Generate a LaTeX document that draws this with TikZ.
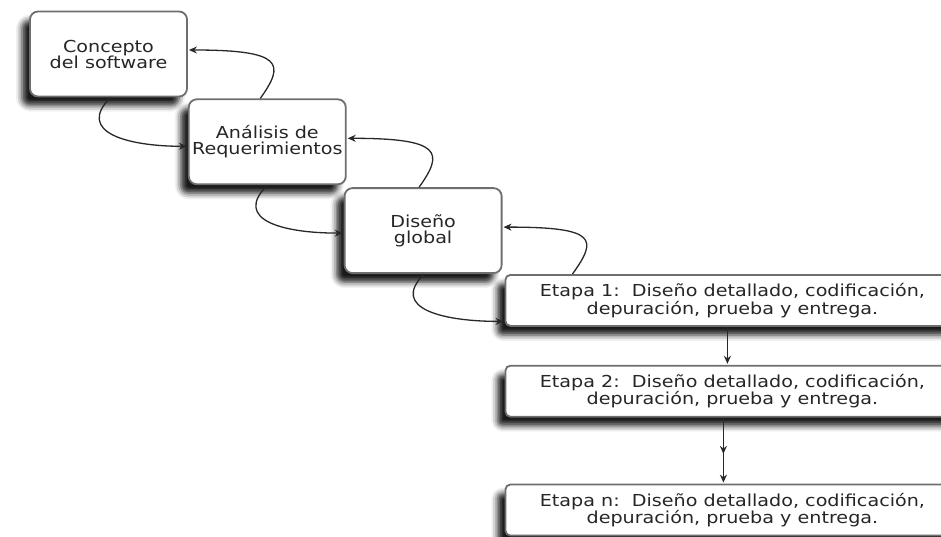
\documentclass[tikz,border=0pt]{standalone}
\usepackage{fontspec}
\setmainfont{DejaVu Sans}[FakeStretch=1.16]
\usepackage{tikz}
\definecolor{framegray}{RGB}{110, 110, 110}
\definecolor{linegray}{RGB}{40, 40, 40}
\usetikzlibrary{
  arrows.meta,
  decorations.markings,
  positioning,
  shadows.blur,
}
\tikzset{
  >={Stealth[length=8pt, width=7pt]},
  shorten >=1pt,
}

\begin{document}
\begin{tikzpicture}[x=1pt, y=-1pt,
    phase/.style={draw=framegray, line width=1.8pt, fill=white, rounded corners=8pt,
                  minimum width=157pt, minimum height=85pt, inner xsep=0pt,
                  align=center, text=black!85, font=\fontsize{16.5}{16}\selectfont,
                  blur shadow={shadow xshift=-8pt, shadow yshift=-9pt,
                               shadow blur radius=6pt, shadow opacity=90}},
    stage/.style={phase, rounded corners=5pt, minimum width=454pt, minimum height=51pt},
    link/.style={->, draw=linegray, line width=1.3pt},
    midhead/.style={postaction={decorate},
                    decoration={markings, mark=at position 0.55 with {\arrow{>}}}}]
  \useasboundingbox (0,0) rectangle (941,536);
  \node [phase] (concept) at (108.5,54) {Concepto\\del software};
  \node [phase, below right=1pt and 0pt of concept] (analysis) {Análisis de\\Requerimientos};
  \node [phase, below right=2pt and -3pt of analysis] (design) {Diseño\\global};
  \node [stage, below right=0pt and 2pt of design] (stage1)
        {Etapa 1:\ \ Diseño detallado, codificación,\\depuración, prueba y entrega.};
  \node [stage, below=38pt of stage1] (stage2)
        {Etapa 2:\ \ Diseño detallado, codificación,\\depuración, prueba y entrega.};
  \node [stage, below=66pt of stage2] (stagen)
        {Etapa n:\ \ Diseño detallado, codificación,\\depuración, prueba y entrega.};
  % forward and backward loops between phases
  \draw [link] ([xshift=2pt]concept.south) .. controls +(-35,35) and +(-60,0) ..
        ([yshift=-4.5pt]analysis.west);
  \draw [link] ([xshift=-7pt]analysis.north) .. controls +(25,-35) and +(95,0) ..
        ([yshift=4pt]concept.east);
  \draw [link] (analysis.south) .. controls +(-35,35) and +(-60,0) ..
        ([yshift=-2.5pt]design.west);
  \draw [link] ([xshift=-4pt]design.north) .. controls +(25,-35) and +(95,0) ..
        ([yshift=3.5pt]analysis.east);
  \draw [link] ([xshift=1pt]design.south) .. controls +(-35,35) and +(-60,0) ..
        ([yshift=-21pt]stage1.west);
  \draw [link] ([xshift=68pt]stage1.north west) .. controls +(25,-35) and +(95,0) ..
        ([yshift=3.5pt]design.east);
  % stages
  \draw [link] ([xshift=-5pt]stage1.south) -- ([xshift=-5pt]stage2.north);
  \draw [link, midhead] ([xshift=-9pt]stage2.south) -- ([xshift=-9pt]stagen.north);
\end{tikzpicture}
\end{document}
